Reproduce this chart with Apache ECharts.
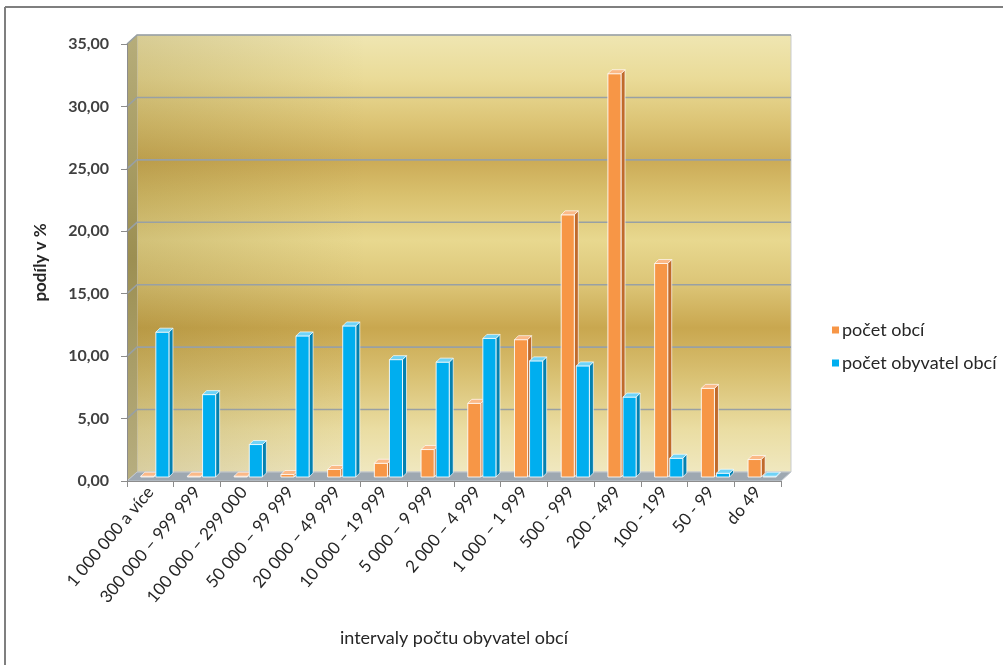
<!DOCTYPE html>
<html>
<head>
<meta charset="utf-8">
<script src="https://cdn.jsdelivr.net/npm/echarts@6/dist/echarts.min.js"></script>
<style>
  html, body { margin: 0; padding: 0; background: #ffffff; }
  #chart { width: 1003px; height: 665px; }
</style>
</head>
<body>
<div id="chart"></div>
<script>
// Intervaly počtu obyvatel obcí
const categories = [
  '1 000 000 a více', '300 000 – 999 999', '100 000 – 299 000', '50 000 – 99 999',
  '20 000 – 49 999', '10 000 – 19 999', '5 000 – 9 999', '2 000 – 4 999',
  '1 000 – 1 999', '500 - 999', '200 - 499', '100 - 199', '50 - 99', 'do 49'
];
// Podíl obcí v daném intervalu (%)
const pocetObci = [0.05, 0.05, 0.05, 0.2, 0.6, 1.1, 2.2, 5.9, 11.0, 21.0, 32.3, 17.1, 7.1, 1.4];
// Podíl obyvatel žijících v obcích daného intervalu (%)
const pocetObyvatel = [11.6, 6.6, 2.6, 11.3, 12.1, 9.4, 9.2, 11.1, 9.3, 8.9, 6.4, 1.5, 0.3, 0.05];
const seriesNames = ['počet obcí', 'počet obyvatel obcí'];
const yTicks = [0, 5, 10, 15, 20, 25, 30, 35];

// depth of the 3D box (back wall offset) and of each column
const DEPTH_X = 10, DEPTH_Y = 9;
const BAR_SHIFT_X = 4.5, BAR_SHIFT_Y = -4, BAR_DEPTH = 4;

const palette = [
  { front: '#f79646', side: '#c06a2b', top: '#fbb987' },
  { front: '#00aeef', side: '#0481b0', top: '#6fd3f7' }
];

const chart = echarts.init(document.getElementById('chart'), null, { renderer: 'canvas' });

function renderWalls(params, api) {
  const cs = params.coordSys;
  const x = cs.x, y = cs.y, w = cs.width, h = cs.height;
  const bx = x + DEPTH_X, by = y - DEPTH_Y;
  const children = [];
  // back wall
  children.push({
    type: 'rect',
    shape: { x: bx, y: by, width: w, height: h },
    style: {
      fill: new echarts.graphic.LinearGradient(0, 0, 0, 1, [
        { offset: 0, color: '#efe6b2' },
        { offset: 0.1, color: '#eadb98' },
        { offset: 0.2, color: '#dcc475' },
        { offset: 0.29, color: '#ccac58' },
        { offset: 0.36, color: '#d8bf6c' },
        { offset: 0.47, color: '#e8d88f' },
        { offset: 0.57, color: '#dcc577' },
        { offset: 0.67, color: '#c9a74f' },
        { offset: 0.78, color: '#d9c173' },
        { offset: 0.9, color: '#eadda2' },
        { offset: 1, color: '#f0e8c0' }
      ]),
      stroke: '#c9cccc',
      lineWidth: 1
    }
  });
  // slight shading towards the left of the wall
  children.push({
    type: 'rect',
    shape: { x: bx, y: by, width: w * 0.35, height: h },
    style: {
      fill: new echarts.graphic.LinearGradient(0, 0, 1, 0, [
        { offset: 0, color: 'rgba(110,90,20,0.18)' },
        { offset: 1, color: 'rgba(110,90,20,0)' }
      ])
    }
  });
  // left side wall
  children.push({
    type: 'polygon',
    shape: { points: [[x, y], [bx, by], [bx, by + h], [x, y + h]] },
    style: {
      fill: new echarts.graphic.LinearGradient(0, 0, 0, 1, [
        { offset: 0, color: '#b6ad7a' },
        { offset: 0.5, color: '#9c8f52' },
        { offset: 1, color: '#b7ae80' }
      ])
    }
  });
  // floor
  children.push({
    type: 'polygon',
    shape: { points: [[x, y + h], [bx, by + h], [bx + w, by + h], [x + w, y + h]] },
    style: { fill: '#9ea8b1', stroke: '#c3c9cf', lineWidth: 1 }
  });
  // gridlines across the side wall and back wall
  yTicks.forEach(function (v) {
    if (v === 0) return;
    const py = api.coord([0, v])[1];
    children.push({
      type: 'polyline',
      shape: { points: [[x, py], [bx, py - DEPTH_Y], [bx + w, py - DEPTH_Y]] },
      style: { stroke: '#98a0a4', lineWidth: 1.6, fill: null }
    });
  });
  return { type: 'group', children: children };
}

function makeBarRenderer(sIdx) {
  return function (params, api) {
    const ci = api.value(0), v = api.value(1);
    const base = api.coord([ci, 0]);
    const top = api.coord([ci, v]);
    const bw = api.size([1, 0])[0];
    const w = bw * 0.28;
    const x0 = (sIdx === 0 ? base[0] - w - 1 : base[0] + 1) + BAR_SHIFT_X;
    const y0 = base[1] + BAR_SHIFT_Y;
    const y1 = Math.min(top[1] + BAR_SHIFT_Y, y0 - 0.8);
    const c = palette[sIdx];
    const d = BAR_DEPTH;
    const edge = 'rgba(255,255,255,0.85)';
    return {
      type: 'group',
      children: [
        {
          type: 'polygon',
          shape: { points: [[x0 + w, y1], [x0 + w + d, y1 - d], [x0 + w + d, y0 - d], [x0 + w, y0]] },
          style: { fill: c.side, stroke: edge, lineWidth: 0.8 }
        },
        {
          type: 'rect',
          shape: { x: x0, y: y1, width: w, height: y0 - y1 },
          style: { fill: c.front, stroke: edge, lineWidth: 1 }
        },
        {
          type: 'polygon',
          shape: { points: [[x0, y1], [x0 + d, y1 - d], [x0 + w + d, y1 - d], [x0 + w, y1]] },
          style: { fill: c.top, stroke: edge, lineWidth: 0.8 }
        }
      ]
    };
  };
}

const fontFamily = 'Lato, "Open Sans", sans-serif';

const option = {
  backgroundColor: '#ffffff',
  animation: false,
  textStyle: { fontFamily: fontFamily },
  grid: { left: 127, right: 222, top: 44, bottom: 184, containLabel: false },
  legend: {
    data: seriesNames,
    orient: 'vertical',
    left: 827,
    top: 316,
    icon: 'rect',
    itemWidth: 7,
    itemHeight: 7,
    itemGap: 15,
    textStyle: { fontSize: 18, color: '#262626', fontFamily: fontFamily, padding: [0, 0, 0, -2] }
  },
  xAxis: {
    type: 'category',
    data: categories,
    z: 5,
    name: 'intervaly počtu obyvatel obcí',
    nameLocation: 'middle',
    nameGap: 148,
    nameTextStyle: { fontSize: 18, color: '#262626' },
    axisLine: { lineStyle: { color: '#8c8c8c', width: 1 } },
    axisTick: { show: true, length: 6, lineStyle: { color: '#8c8c8c' } },
    axisLabel: { rotate: 50, interval: 0, fontSize: 17, color: '#262626', margin: 8 },
    splitLine: { show: false }
  },
  yAxis: {
    type: 'value',
    min: 0,
    max: 35,
    interval: 5,
    z: 5,
    name: 'podíly v %',
    nameLocation: 'middle',
    nameGap: 78,
    nameRotate: 90,
    nameTextStyle: { fontSize: 17, fontWeight: 'bold', color: '#262626' },
    axisLine: { show: true, lineStyle: { color: '#8c8c8c', width: 1 } },
    axisTick: { show: true, length: 6, lineStyle: { color: '#8c8c8c' } },
    axisLabel: {
      fontSize: 16, fontWeight: 'bold', color: '#404040', margin: 18,
      formatter: function (v) { return v.toFixed(2).replace('.', ','); }
    },
    splitLine: { show: false }
  },
  graphic: [
    { type: 'line', shape: { x1: 5, y1: 7, x2: 1003, y2: 7 }, style: { stroke: '#7f7f7f', lineWidth: 2 } },
    { type: 'line', shape: { x1: 5, y1: 7, x2: 5, y2: 665 }, style: { stroke: '#7f7f7f', lineWidth: 2 } }
  ],
  series: [
    {
      type: 'custom',
      z: 0,
      silent: true,
      renderItem: renderWalls,
      data: [[0, 0]],
      encode: { x: 0, y: 1 }
    },
    {
      name: seriesNames[0],
      type: 'custom',
      z: 3,
      itemStyle: { color: palette[0].front },
      renderItem: makeBarRenderer(0),
      encode: { x: 0, y: 1 },
      data: pocetObci.map(function (v, i) { return [i, v]; })
    },
    {
      name: seriesNames[1],
      type: 'custom',
      z: 3,
      itemStyle: { color: palette[1].front },
      renderItem: makeBarRenderer(1),
      encode: { x: 0, y: 1 },
      data: pocetObyvatel.map(function (v, i) { return [i, v]; })
    }
  ]
};

chart.setOption(option);
</script>
</body>
</html>
